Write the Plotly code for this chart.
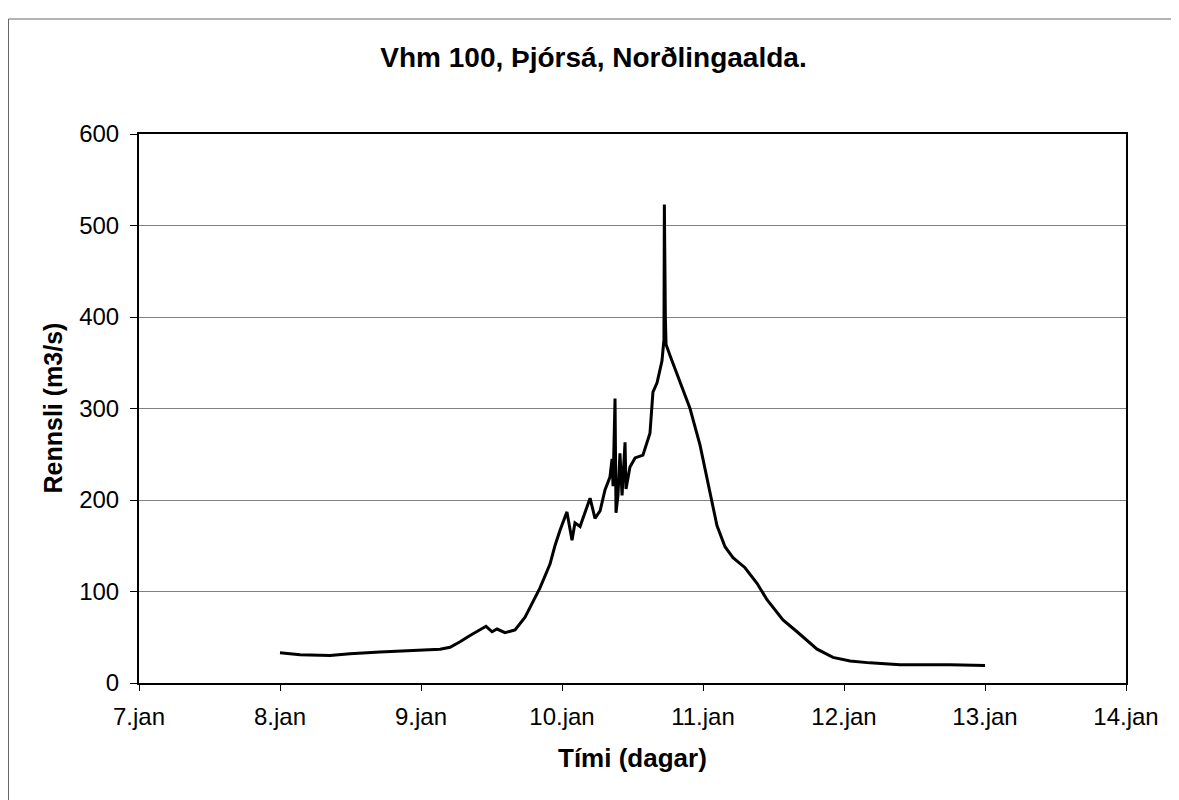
import plotly.graph_objects as go

days = [8.000, 8.142, 8.355, 8.496, 8.709, 8.851, 8.993, 9.135, 9.206, 9.277, 9.348, 9.418,
        9.461, 9.504, 9.539, 9.596, 9.667, 9.738, 9.809, 9.844, 9.915, 9.950, 9.986, 10.035,
        10.071, 10.092, 10.128, 10.199, 10.234, 10.270, 10.305, 10.340, 10.355, 10.362, 10.376,
        10.383, 10.397, 10.411, 10.426, 10.447, 10.454, 10.482, 10.518, 10.574, 10.624, 10.645,
        10.674, 10.709, 10.723, 10.726, 10.733, 10.738, 10.766, 10.837, 10.908, 10.979, 11.050,
        11.099, 11.156, 11.213, 11.298, 11.383, 11.454, 11.567, 11.667, 11.738, 11.809, 11.922,
        12.043, 12.184, 12.397, 12.752, 13.000]
flow = [33, 31, 30, 32, 34, 35, 36, 37, 39, 45, 52, 58,
        62, 56, 59, 55, 58, 72, 94, 104, 130, 150, 167, 187,
        156, 175, 171, 202, 180, 188, 211, 225, 245, 215, 311,
        186, 205, 251, 205, 263, 212, 236, 246, 249, 273, 318,
        328, 352, 375, 523, 400, 370, 358, 330, 300, 260, 210,
        172, 149, 137, 126, 109, 91, 69, 56, 47, 37, 28,
        24, 22, 20, 20, 19]

tick_vals = [7, 8, 9, 10, 11, 12, 13, 14]
tick_text = ["7.jan", "8.jan", "9.jan", "10.jan", "11.jan", "12.jan", "13.jan", "14.jan"]
y_ticks = [0, 100, 200, 300, 400, 500, 600]

# figure is placed at an 8px body offset in the page
W, H = 1171, 792
L, R, T, B = 131, 53, 126, 117
PW, PH = W - L - R, H - T - B

fig = go.Figure()
fig.add_trace(go.Scatter(x=days, y=flow, mode="lines",
                         line=dict(color="black", width=3), showlegend=False))

font = "Liberation Sans, Arial, sans-serif"
fig.update_layout(
    width=W, height=H,
    margin=dict(l=L, r=R, t=T, b=B),
    paper_bgcolor="white", plot_bgcolor="white",
    font=dict(family=font, color="black", size=24),
    title=dict(text="<b>Vhm 100, Þjórsá, Norðlingaalda.</b>", x=0.5, xanchor="center",
               y=1 - 49 / H, yanchor="middle", yref="container",
               font=dict(size=28, family=font, color="black")),
    xaxis=dict(range=[7, 14], tickvals=tick_vals, ticktext=tick_text,
               showgrid=False, zeroline=False, showline=True, linecolor="black",
               linewidth=2, mirror=True, ticks="outside", ticklen=6, tickcolor="black",
               tickfont=dict(size=24), ticklabelstandoff=5),
    yaxis=dict(range=[0, 600], tickvals=y_ticks,
               showgrid=True, gridcolor="#808080", gridwidth=1, zeroline=False,
               showline=True, linecolor="black", linewidth=2, mirror=True,
               ticks="outside", ticklen=7, tickcolor="black", tickfont=dict(size=24),
               ticklabelstandoff=6),
)

fig.add_annotation(text="<b>Tími (dagar)</b>", xref="paper", yref="paper",
                   x=0.5, y=-75 / PH, xanchor="center", yanchor="middle",
                   showarrow=False, font=dict(size=26, family=font, color="black"))
fig.add_annotation(text="<b>Rennsli (m3/s)</b>", xref="paper", yref="paper",
                   x=(44 - L) / PW, y=0.5, xanchor="center", yanchor="middle",
                   textangle=-90, showarrow=False,
                   font=dict(size=25, family=font, color="black"))

fig.add_shape(type="rect", xref="paper", yref="paper",
              x0=(0.5 - L) / PW, x1=(W + 10 - L) / PW,
              y0=-(B + 10) / PH, y1=(H - T - 2) / PH,
              line=dict(color="#666666", width=1), layer="below")

fig.write_html("out.html")
